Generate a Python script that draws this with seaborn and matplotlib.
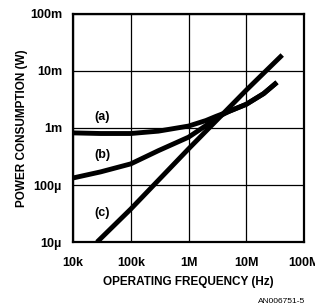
import seaborn as sns
import pandas as pd
import matplotlib.pyplot as plt

# curve (a)
freq_a = [1e4, 3e4, 1e5, 3e5, 1e6, 2e6, 3e6, 5e6, 1e7, 2e7, 3.4e7]
power_a = [0.82e-3, 0.80e-3, 0.80e-3, 0.88e-3, 1.08e-3, 1.35e-3, 1.6e-3, 1.95e-3, 2.6e-3, 4.0e-3, 6.3e-3]
# curve (b)
freq_b = [1e4, 3e4, 1e5, 3e5, 1e6, 2e6, 3e6, 5e6, 1e7, 2e7, 3.4e7]
power_b = [0.133e-3, 0.17e-3, 0.235e-3, 0.40e-3, 0.69e-3, 1.1e-3, 1.5e-3, 1.95e-3, 2.6e-3, 4.0e-3, 6.3e-3]
# curve (c)
freq_c = [2.6e4, 1e5, 1e6, 1e7, 4.2e7]
power_c = [1.0e-5, 3.8e-5, 4.3e-4, 4.6e-3, 1.9e-2]

x_ticks = [1e4, 1e5, 1e6, 1e7, 1e8]
x_labels = ['10k', '100k', '1M', '10M', '100M']
y_ticks = [1e-5, 1e-4, 1e-3, 1e-2, 1e-1]
y_labels = ['10µ', '100µ', '1m', '10m', '100m']

data = pd.concat([
    pd.DataFrame({'f': freq_a, 'p': power_a, 'curve': 'a'}),
    pd.DataFrame({'f': freq_b, 'p': power_b, 'curve': 'b'}),
    pd.DataFrame({'f': freq_c, 'p': power_c, 'curve': 'c'}),
])

sns.set_style('white')
plt.rcParams['font.family'] = ['Liberation Sans', 'DejaVu Sans']
plt.rcParams['text.color'] = 'black'
plt.rcParams['xtick.color'] = 'black'
plt.rcParams['ytick.color'] = 'black'
plt.rcParams['axes.labelcolor'] = 'black'

fig = plt.figure(figsize=(3.15, 3.08), dpi=100)
ax = fig.add_axes([0.232, 0.214, 0.733, 0.741])

sns.lineplot(data=data, x='f', y='p', hue='curve', palette=['black'] * 3,
             linewidth=3.5, legend=False, ax=ax, sort=False, solid_capstyle='butt')

ax.set_xscale('log')
ax.set_yscale('log')
ax.set_xlim(1e4, 1e8)
ax.set_ylim(1e-5, 1e-1)
ax.set_xticks(x_ticks)
ax.set_xticklabels(x_labels, fontsize=9, fontweight='bold')
ax.set_yticks(y_ticks)
ax.set_yticklabels(y_labels, fontsize=9, fontweight='bold')
ax.minorticks_off()
ax.tick_params(axis='x', length=0, pad=11)
ax.tick_params(axis='y', length=0, pad=8)
ax.grid(True, color='black', linewidth=0.9)
for s in ax.spines.values():
    s.set_color('black')
    s.set_linewidth(1.6)

ax.set_xlabel('OPERATING FREQUENCY (Hz)', fontsize=8.5, fontweight='bold', labelpad=5)
ax.set_ylabel('POWER CONSUMPTION (W)', fontsize=8.5, fontweight='bold', labelpad=1)

ax.text(3.2e4, 1.55e-3, '(a)', fontsize=9, fontweight='bold', ha='center', va='center')
ax.text(3.2e4, 0.34e-3, '(b)', fontsize=9, fontweight='bold', ha='center', va='center')
ax.text(3.2e4, 3.2e-5, '(c)', fontsize=9, fontweight='bold', ha='center', va='center')

fig.text(0.82, 0.01, 'AN006751-5', fontsize=6, ha='left', va='bottom')

fig.savefig('out.png', dpi=100)
